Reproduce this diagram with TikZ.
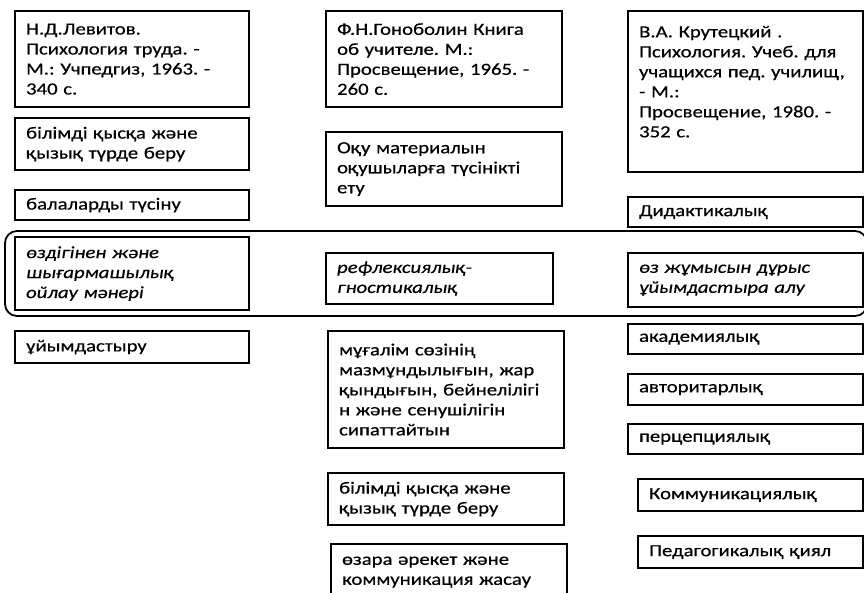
\documentclass[tikz,border=0pt]{standalone}
\usepackage{fontspec}
\setmainfont{Carlito}[FakeStretch=1.22, FakeBold=0.5]
\frenchspacing
\usetikzlibrary{positioning}
\tikzset{
	box/.style={draw, line width=2.2pt, anchor=north west, inner xsep=11pt, inner ysep=0pt, align=left},
	lcol/.style={box, text width=212pt},
	mcol/.style={box, text width=214pt},
	rcol/.style={box, text width=213pt},
	group/.style={line width=1.8pt, rounded corners=12pt}
}

\begin{document}
\begin{tikzpicture}[x=1pt, y=-1pt, font=\fontsize{17}{20}\selectfont]
			%%%%% START %%%%%
			\useasboundingbox (0, 0) rectangle (864, 592);
			
			\draw[group] (5, 231) rectangle (867, 316);
			
			\node[lcol, minimum height=96] (lev) at (14, 10) {Н.Д.Левитов.\\Психология труда. -\\М.: Учпедгиз, 1963. -\\340 с.};
			\node[lcol, minimum height=52] (lev1) at (14, 117) {білімді қысқа және\\қызық түрде беру};
			\node[lcol, minimum height=30] (lev2) at (14, 189) {балаларды түсіну};
			\node[lcol, minimum height=73, font=\fontsize{17}{20}\selectfont\itshape] (lev3) at (14, 236) {өздігінен және\\шығармашылық\\ойлау мәнері};
			\node[lcol, minimum height=32] (lev4) at (14, 330) {ұйымдастыру};
			
			\node[mcol, minimum height=96] (gon) at (325, 10) {Ф.Н.Гоноболин Книга\\об учителе. М.:\\Просвещение, 1965. -\\260 с.};
			\node[mcol, minimum height=74] (gon1) at (325, 131) {Оқу материалын\\оқушыларға түсінікті\\ету};
			\node[mcol, text width=205pt, minimum height=51, font=\fontsize{17}{20}\selectfont\itshape] (gon2) at (325, 252) {рефлексиялық-\\гностикалық};
			\node[mcol, minimum height=117] (gon3) at (327, 330) {мұғалім сөзінің\\мазмұндылығын, жар\\қындығын, бейнелілігі\\н және сенушілігін\\сипаттайтын};
			\node[mcol, minimum height=52] (gon4) at (327, 472) {білімді қысқа және\\қызық түрде беру};
			\node[mcol, minimum height=56] (gon5) at (330, 543) {өзара әрекет және\\коммуникация жасау};
			
			\node[rcol, minimum height=161] (kru) at (627, 10) {В.А. Крутецкий .\\Психология. Учеб. для\\учащихся пед. училищ,\\- М.:\\Просвещение, 1980. -\\352 с.\\\mbox{}};
			\node[rcol, minimum height=30] (kru1) at (627, 196) {Дидактикалық};
			\node[rcol, minimum height=54, font=\fontsize{17}{20}\selectfont\itshape] (kru2) at (627, 252) {өз жұмысын дұрыс\\ұйымдастыра алу};
			\node[rcol, minimum height=30] (kru3) at (627, 323) {академиялық};
			\node[rcol, minimum height=31] (kru4) at (627, 373) {авторитарлық};
			\node[rcol, minimum height=30] (kru5) at (627, 423) {перцепциялық};
			\node[rcol, text width=203pt, minimum height=32] (kru6) at (637, 478) {Коммуникациялық};
			\node[rcol, text width=203pt, minimum height=32] (kru7) at (637, 535) {Педагогикалық қиял};
			%%%%% END %%%%%
\end{tikzpicture}
\end{document}
